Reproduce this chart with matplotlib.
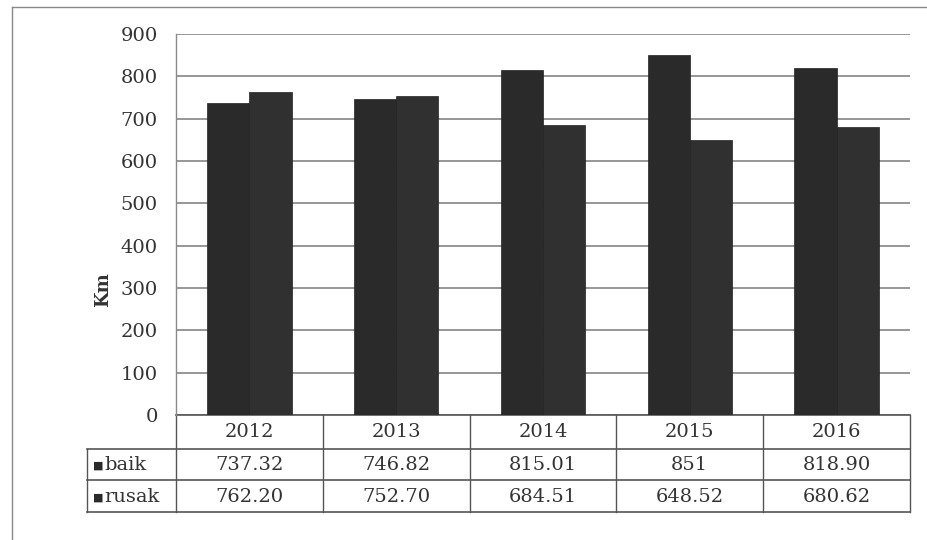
import numpy as np
import matplotlib
matplotlib.use("Agg")
import matplotlib.pyplot as plt
from matplotlib.transforms import blended_transform_factory
from matplotlib.lines import Line2D

# data
years = ["2012", "2013", "2014", "2015", "2016"]
baik = [737.32, 746.82, 815.01, 851, 818.90]
rusak = [762.20, 752.70, 684.51, 648.52, 680.62]
baik_txt = ["737.32", "746.82", "815.01", "851", "818.90"]
rusak_txt = ["762.20", "752.70", "684.51", "648.52", "680.62"]
series_names = ["baik", "rusak"]
yticks = list(range(0, 901, 100))

W, H = 928, 540
fig = plt.figure(figsize=(W / 100, H / 100), dpi=100)
plt.rcParams['font.family'] = ['DejaVu Serif', 'DejaVu Sans']

# plot area in pixel terms -> figure fractions
left, right, top, bottom = 176, 910, 34, 415
ax = fig.add_axes([left / W, 1 - bottom / H, (right - left) / W, (bottom - top) / H])

x = np.arange(len(years))
width = 0.287
ax.bar(x - width / 2, baik, width, color='#2a2a2a', edgecolor='#222222', lw=0.5, zorder=3)
ax.bar(x + width / 2, rusak, width, color='#303030', edgecolor='#222222', lw=0.5, zorder=3)

ax.set_xlim(-0.5, len(years) - 0.5)
ax.set_ylim(0, 900)
ax.set_yticks(yticks)
ax.set_xticks([])
ax.tick_params(axis='y', length=0, pad=13, labelsize=14, labelcolor='#333333')
ax.grid(axis='y', color='#7a7a7a', lw=1.1, zorder=0)
for s in ['top', 'right', 'bottom']:
    ax.spines[s].set_visible(False)
ax.spines['left'].set_color('#8a8a8a')
ax.spines['left'].set_linewidth(1)

# data table under the axes
ax_h = bottom - top
def ay(py):
    return -(py - bottom) / ax_h

def ax_x(px):
    return (px - left) / (right - left)

ax.set_ylabel('Km', fontsize=13, fontweight='bold', color='#333333')
ax.yaxis.set_label_coords(ax_x(112), ay(290))

row_y = [415, 449, 480, 512]
label_left = ax_x(87)
bt = blended_transform_factory(ax.transData, ax.transAxes)
lc = '#555555'

# horizontal rules
ax.add_line(Line2D([0, 1], [ay(row_y[0])] * 2, transform=ax.transAxes, color=lc, lw=1.2, clip_on=False))
for py in row_y[1:]:
    ax.add_line(Line2D([label_left, 1], [ay(py)] * 2, transform=ax.transAxes, color=lc, lw=1.2, clip_on=False))
# vertical rules at category edges
for i in range(len(years) + 1):
    ax.add_line(Line2D([i - 0.5, i - 0.5], [ay(row_y[0]), ay(row_y[3])], transform=bt,
                       color=lc, lw=1, clip_on=False))
ax.add_line(Line2D([label_left] * 2, [ay(row_y[1]), ay(row_y[3])], transform=ax.transAxes,
                   color=lc, lw=1, clip_on=False))

tc = '#333333'
for i, yr in enumerate(years):
    ax.text(i, ay(432), yr, transform=bt, ha='center', va='center', fontsize=14, color=tc)
    ax.text(i, ay(465), baik_txt[i], transform=bt, ha='center', va='center', fontsize=14, color=tc)
    ax.text(i, ay(497), rusak_txt[i], transform=bt, ha='center', va='center', fontsize=14, color=tc)

for name, py in zip(series_names, [465, 497]):
    ax.text(ax_x(98.5), ay(py + 1), '\u25a0', transform=ax.transAxes,
            ha='center', va='center', fontsize=8, color='#2a2a2a', family=['DejaVu Sans'])
    ax.text(ax_x(104), ay(py), name, transform=ax.transAxes,
            ha='left', va='center', fontsize=14, color=tc)

# scanned page border
fig.add_artist(Line2D([12 / W, 1], [1 - 7 / H] * 2, color='#888888', lw=1))
fig.add_artist(Line2D([12 / W] * 2, [0, 1 - 7 / H], color='#888888', lw=1))

fig.savefig('out.png', dpi=100)
